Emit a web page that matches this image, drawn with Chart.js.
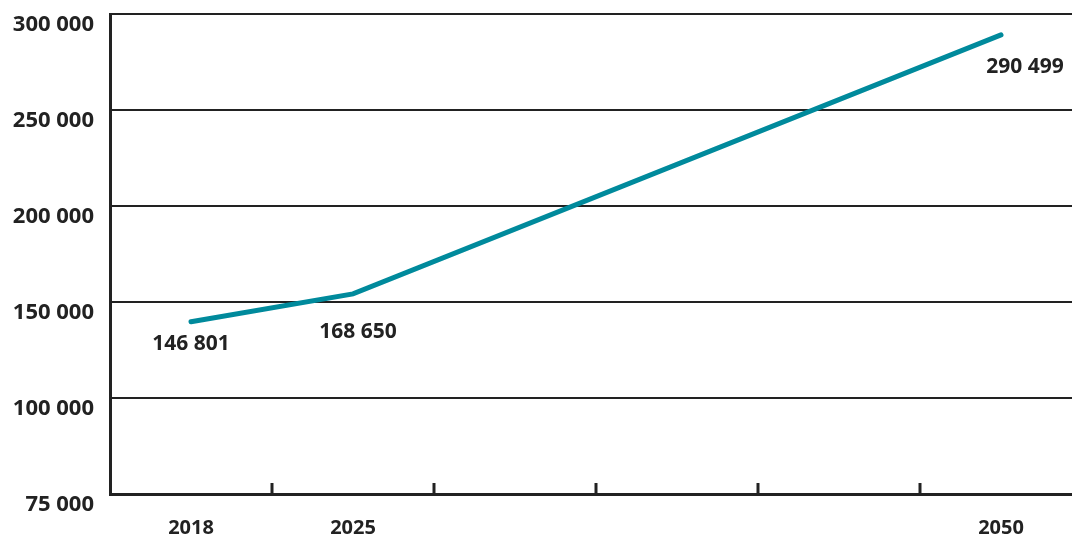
<!DOCTYPE html>
<html>
<head>
<meta charset="utf-8">
<script src="https://cdn.jsdelivr.net/npm/chart.js@4.4.1/dist/chart.umd.min.js"></script>
<style>
  html, body { margin: 0; padding: 0; background: #fff; overflow: hidden; }
  #wrap { width: 1090px; height: 542px; position: relative; }
</style>
</head>
<body>
<div id="wrap"><canvas id="popChart"></canvas></div>
<script>
// chart data
const years = [ '2018', '2025', '', '', '', '2050' ];
const population = [ 139700, 154200, null, null, null, 289100 ];
const valueLabels = [ '146 801', '168 650', '', '', '', '290 499' ];
const yTickLabels = [ '75 000', '100 000', '150 000', '200 000', '250 000', '300 000' ];

const inkColor = '#222222';
const lineColor = '#008a9c';

// offsets of the value labels from their points [dx, dy]
const labelOffsets = [ [ 0, 22 ], [ 5, 38 ], [ 0, 0 ], [ 0, 0 ], [ 0, 0 ], [ 24, 32 ] ];

// small tick marks pointing up from the x axis, between categories
const innerTicks = {
  id: 'innerTicks',
  afterDraw(chart) {
    const x = chart.scales.x;
    const ctx = chart.ctx;
    const bottom = chart.chartArea.bottom;
    ctx.save();
    ctx.strokeStyle = inkColor;
    ctx.lineWidth = 3;
    for (let i = 1; i < years.length; i++) {
      const px = (x.getPixelForValue(i - 1) + x.getPixelForValue(i)) / 2;
      ctx.beginPath();
      ctx.moveTo(px, bottom);
      ctx.lineTo(px, bottom - 11);
      ctx.stroke();
    }
    ctx.restore();
  }
};

// value labels next to the points
const valueText = {
  id: 'valueText',
  afterDatasetsDraw(chart) {
    const meta = chart.getDatasetMeta(0);
    const ctx = chart.ctx;
    ctx.save();
    ctx.font = '700 21px "Open Sans"';
    ctx.fillStyle = inkColor;
    ctx.textAlign = 'center';
    ctx.textBaseline = 'middle';
    meta.data.forEach((pt, i) => {
      if (!valueLabels[i] || population[i] === null) return;
      ctx.fillText(valueLabels[i], pt.x + labelOffsets[i][0], pt.y + labelOffsets[i][1]);
    });
    ctx.restore();
  }
};

const config = {
  type: 'line',
  data: {
    labels: years,
    datasets: [ {
      data: population,
      borderColor: lineColor,
      borderWidth: 5,
      borderCapStyle: 'round',
      pointRadius: 0,
      tension: 0,
      spanGaps: true
    } ]
  },
  options: {
    responsive: true,
    maintainAspectRatio: false,
    animation: false,
    layout: { padding: { top: 14, right: 8, left: 0, bottom: 0 } },
    plugins: {
      legend: { display: false },
      tooltip: { enabled: false }
    },
    scales: {
      x: {
        type: 'category',
        offset: true,
        grid: { display: false, drawTicks: false },
        border: { display: true, color: inkColor, width: 3 },
        ticks: {
          color: inkColor,
          font: { family: 'Open Sans', size: 20, weight: '700' },
          padding: 22,
          maxRotation: 0,
          autoSkip: false
        },
        afterFit(scale) { scale.height = 48; }
      },
      y: {
        min: 50000,
        max: 300000,
        grid: { color: inkColor, lineWidth: 2, drawTicks: false },
        border: { display: true, color: inkColor, width: 3 },
        ticks: {
          stepSize: 50000,
          color: inkColor,
          font: { family: 'Open Sans', size: 22, weight: '700' },
          padding: 16,
          labelOffset: 11,
          callback: (v, i) => yTickLabels[i]
        },
        afterFit(scale) {
          scale.width = 110;
          scale.paddingTop = 0;
          scale.paddingBottom = 0;
        }
      }
    }
  },
  plugins: [ innerTicks, valueText ]
};

new Chart(document.getElementById('popChart'), config);
</script>
</body>
</html>
